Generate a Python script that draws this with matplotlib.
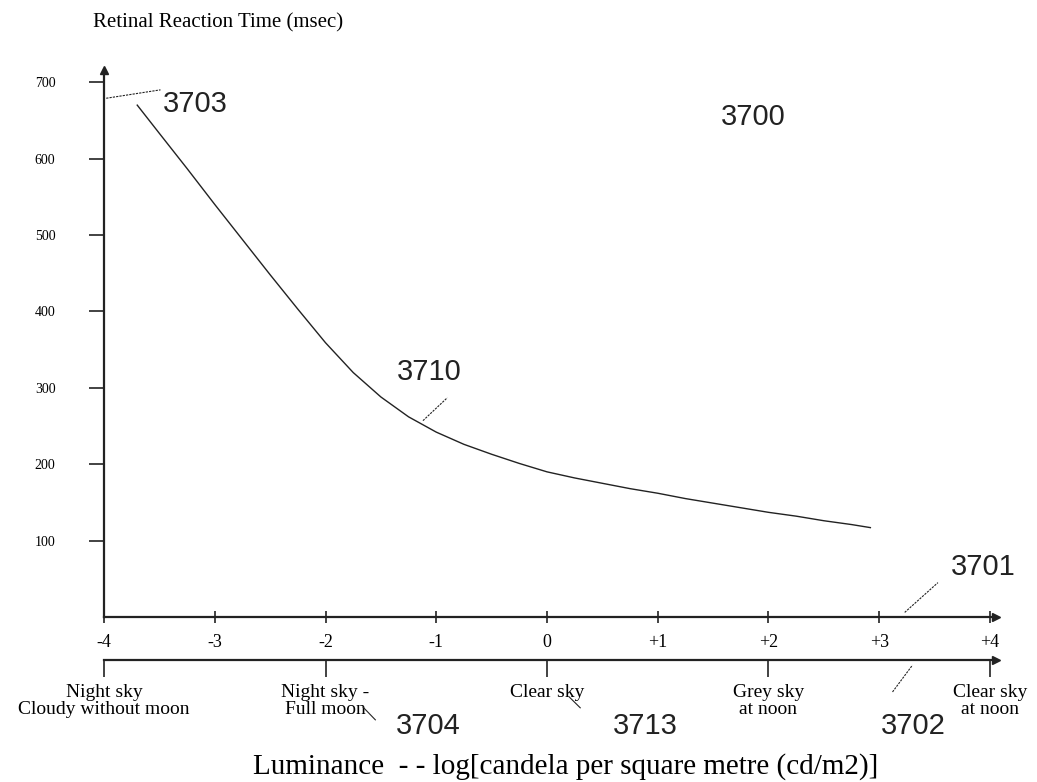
import matplotlib.pyplot as plt
import numpy as np

# curve 3710: retinal reaction time vs log luminance
lum = [-3.70, -3.5, -3.25, -3.0, -2.75, -2.5, -2.25, -2.0, -1.75, -1.5, -1.25, -1.0,
       -0.75, -0.5, -0.25, 0.0, 0.25, 0.5, 0.75, 1.0, 1.25, 1.5, 1.75, 2.0, 2.25, 2.5,
       2.75, 2.92]
rt = [670, 633, 587, 540, 494, 448, 403, 359, 320, 288, 262, 242,
      226, 213, 201, 190, 182, 175, 168, 162, 155, 149, 143, 137, 132, 126,
      121, 117]

yticks = [100, 200, 300, 400, 500, 600, 700]
xticks = [-4, -3, -2, -1, 0, 1, 2, 3, 4]
xticklabels = ["-4", "-3", "-2", "-1", "0", "+1", "+2", "+3", "+4"]
sky_pos = [-4, -2, 0, 2, 4]
sky_labels = ["Night sky\nCloudy without moon", "Night sky -\nFull moon", "Clear sky",
              "Grey sky\nat noon", "Clear sky\nat noon"]

serif = "Liberation Serif"
sans = "Liberation Sans"
ink = "#222222"

fig = plt.figure(figsize=(10.37, 7.82), dpi=100)
ax = fig.add_axes([0.1003, 0.211, 0.8597, 0.6995])
ax.set_xlim(-4, 4.05)
ax.set_ylim(0, 716)

ax.plot(lum, rt, color=ink, lw=1.0)

for s in ["top", "right"]:
    ax.spines[s].set_visible(False)
for s in ["left", "bottom"]:
    ax.spines[s].set_color(ink)
    ax.spines[s].set_linewidth(1.6)
    ax.spines[s].set_linestyle((0, (2, 1)))

# arrow heads on the axes
ax.plot(1, 0, ">", color=ink, ms=6, transform=ax.get_yaxis_transform(), clip_on=False)
ax.plot(-4, 1, "^", color=ink, ms=6, transform=ax.get_xaxis_transform(), clip_on=False)

ax.set_yticks(yticks)
ax.set_yticklabels([str(v) for v in yticks], fontfamily=serif, fontsize=10)
ax.tick_params(axis="y", length=11, width=1.2, color=ink, pad=24)
ax.set_xticks(xticks)
ax.set_xticklabels(xticklabels, fontfamily=serif, fontsize=13)
ax.tick_params(axis="x", length=8, width=1.2, color=ink, pad=8, direction="inout")

# second (sky condition) axis
sec = ax.secondary_xaxis(-0.0786)
sec.spines["bottom"].set_color(ink)
sec.spines["bottom"].set_linewidth(1.6)
sec.spines["bottom"].set_linestyle((0, (2, 1)))
sec.set_xticks(sky_pos)
sec.set_xticklabels(sky_labels, fontfamily=serif, fontsize=14, linespacing=1.05)
sec.tick_params(axis="x", length=12, width=1.2, color=ink, pad=5)
ax.plot(1, -0.0786, ">", color=ink, ms=6, transform=ax.transAxes, clip_on=False)

fig.text(218 / 1037, 1 - 23 / 782, "Retinal Reaction Time (msec)", fontfamily=serif,
         fontsize=15, ha="center", va="center")
ax.text(0.17, -0.274, "Luminance  - - log[candela per square metre (cd/m2)]",
        transform=ax.get_xaxis_transform(), fontfamily=serif, fontsize=21,
        ha="center", va="center")

# reference numerals and leader lines
ref = dict(fontfamily=sans, fontsize=21, ha="center", va="center", color=ink)
ax.text(-3.18, 672, "3703", **ref)
ax.plot([-3.98, -3.49], [679, 690], color=ink, lw=0.8, ls=(0, (2, 1)), clip_on=False)
ax.text(1.86, 654, "3700", **ref)
ax.text(-1.06, 321, "3710", **ref)
ax.plot([-1.12, -0.90], [257, 287], color=ink, lw=0.8, ls=(0, (2, 1)))
ax.text(3.94, 66, "3701", **ref)
ax.plot([3.23, 3.53], [6, 45], color=ink, lw=0.8, ls=(0, (2, 1)))

xt = ax.get_xaxis_transform()
ax.text(-1.07, -0.199, "3704", transform=xt, clip_on=False, **ref)
ax.plot([-1.66, -1.55], [-0.165, -0.188], color=ink, lw=0.8, transform=xt, clip_on=False)
ax.text(0.89, -0.199, "3713", transform=xt, clip_on=False, **ref)
ax.plot([0.20, 0.30], [-0.146, -0.166], color=ink, lw=0.8, transform=xt, clip_on=False)
ax.text(3.31, -0.199, "3702", transform=xt, clip_on=False, **ref)
ax.plot([3.12, 3.30], [-0.137, -0.088], color=ink, lw=0.8, ls=(0, (2, 1)),
        transform=xt, clip_on=False)

fig.savefig("out.png", dpi=100, facecolor="white")
